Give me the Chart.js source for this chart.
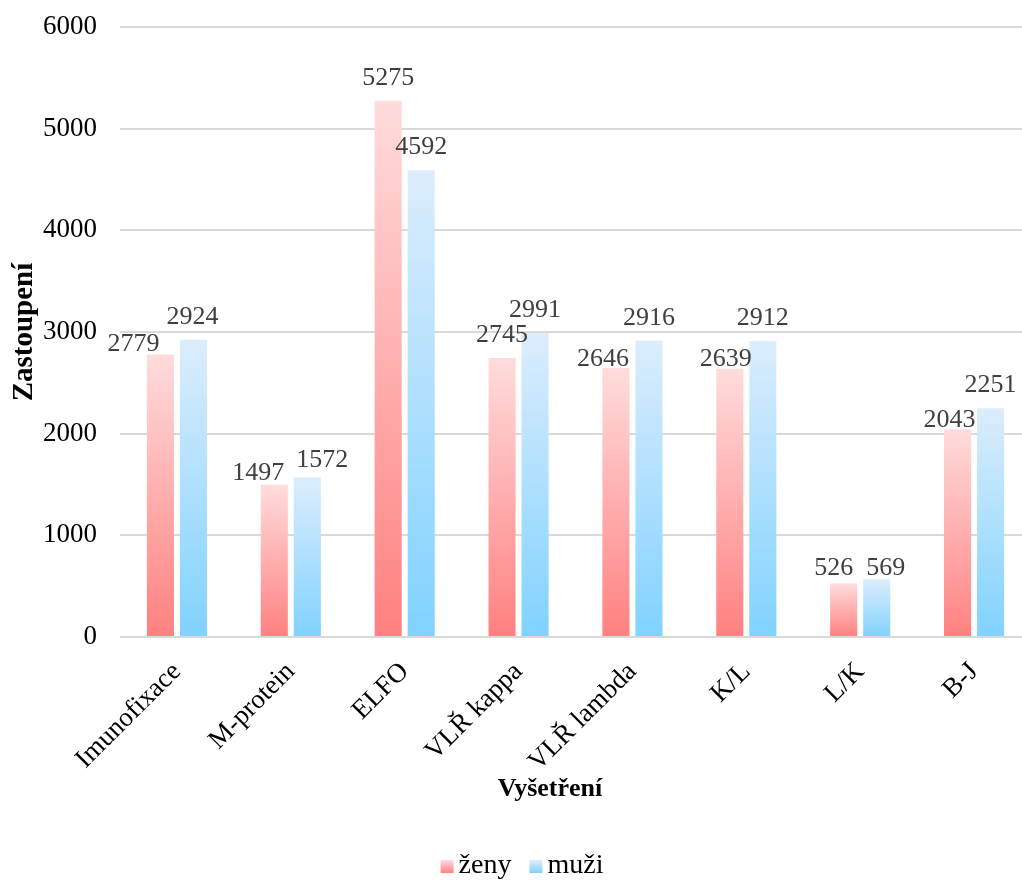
<!DOCTYPE html>
<html lang="cs">

<head>
  <meta charset="UTF-8">
  <title>Vyšetření</title>
  <script src="https://cdn.jsdelivr.net/npm/chart.js"></script>
  <style>
    body {
      margin: 0;
      background: #fff;
      overflow: hidden;
    }

    .wrap {
      width: 1044px;
      height: 880px;
    }
  </style>
</head>

<body>
  <div class="wrap"><canvas id="g" width="1044" height="880"></canvas></div>

  <script>
    const kategorie = ['Imunofixace', 'M-protein', 'ELFO', 'VLŘ kappa', 'VLŘ lambda', 'K/L', 'L/K', 'B-J'];
    const zeny = [2779, 1497, 5275, 2745, 2646, 2639, 526, 2043];
    const muzi = [2924, 1572, 4592, 2991, 2916, 2912, 569, 2251];
    const yMax = 6000;
    const yKrok = 1000;

    // posun popisku hodnot (px), aby se neprekryvaly
    const posunX = [
      [-27, -16, 0, 0, -13, -4, -10, -8],
      [-1, 15, 0, 0, 0, 0, 9, 0]
    ];
    const posunY = [
      [13, 11, 0, 0, 14, 13, 7, 14],
      [0, 6, 0, 0, 0, 0, 12, 0]
    ];

    const FONT = "'Liberation Serif', 'Times New Roman', serif";
    const cervena = ['#ff8080', '#ffdcdc'];
    const modra = ['#80d2ff', '#dcedfc'];

    // prechod pres vysku kazdeho sloupce
    function vypln(b) {
      return function (ctx) {
        const ch = ctx.chart;
        if (!ch.chartArea || ctx.type !== 'data') return b[0];
        const y = ch.scales.y;
        const g = ch.ctx.createLinearGradient(0, y.getPixelForValue(0), 0, y.getPixelForValue(ctx.raw));
        g.addColorStop(0, b[0]);
        g.addColorStop(1, b[1]);
        return g;
      };
    }

    const popisky = {
      id: 'popisky',
      afterDatasetsDraw(ch) {
        const c = ch.ctx;
        c.save();
        c.font = '26px ' + FONT;
        c.fillStyle = '#404040';
        c.textAlign = 'center';
        c.textBaseline = 'alphabetic';
        ch.data.datasets.forEach((ds, di) => {
          ch.getDatasetMeta(di).data.forEach((bar, i) => {
            c.fillText(ds.data[i], bar.x + posunX[di][i], bar.y - 16 + posunY[di][i]);
          });
        });
        c.restore();
      }
    };

    // nazev osy x a legenda pod grafem
    const spodek = {
      id: 'spodek',
      afterDraw(ch) {
        const c = ch.ctx;
        const a = ch.chartArea;
        c.save();
        c.fillStyle = '#000';
        c.textBaseline = 'middle';
        c.textAlign = 'center';
        c.font = 'bold 26px ' + FONT;
        c.fillText('Vyšetření', a.left + 430, a.bottom + 152);

        c.font = '28px ' + FONT;
        c.textAlign = 'left';
        const barvy = [cervena, modra];
        const sirky = ch.data.datasets.map(d => c.measureText(d.label).width);
        const celkem = sirky.reduce((s, w) => s + 13 + 5 + w, 0) + 18;
        let x = ch.width / 2 - celkem / 2;
        const y = 866;
        ch.data.datasets.forEach((d, i) => {
          const g = c.createLinearGradient(0, y + 7, 0, y - 6);
          g.addColorStop(0, barvy[i][0]);
          g.addColorStop(1, barvy[i][1]);
          c.fillStyle = g;
          c.fillRect(x, y - 6, 13, 13);
          c.fillStyle = '#000';
          c.fillText(d.label, x + 18, y);
          x += 13 + 5 + sirky[i] + 18;
        });
        c.restore();
      }
    };

    new Chart(document.getElementById('g'), {
      type: 'bar',
      data: {
        labels: kategorie,
        datasets: [{
          label: 'ženy',
          data: zeny,
          backgroundColor: vypln(cervena),
          borderWidth: 0
        }, {
          label: 'muži',
          data: muzi,
          backgroundColor: vypln(modra),
          borderWidth: 0
        }]
      },
      options: {
        responsive: false,
        animation: false,
        devicePixelRatio: 1,
        categoryPercentage: 0.58,
        barPercentage: 0.82,
        layout: {
          padding: { top: 27, right: 13, left: 0, bottom: 0 }
        },
        plugins: {
          tooltip: { enabled: false },
          legend: { display: false }
        },
        scales: {
          x: {
            grid: { display: false, drawTicks: false },
            border: { display: false },
            ticks: {
              color: '#000',
              font: { family: FONT, size: 27 },
              minRotation: 45,
              maxRotation: 45,
              padding: 19
            },
            afterFit(s) {
              s.height = 243;
              s.paddingTop = 0;
              s.paddingBottom = 0;
            }
          },
          y: {
            min: 0,
            max: yMax,
            grid: { color: '#d9d9d9', lineWidth: 2, drawTicks: false },
            border: { display: false },
            ticks: {
              stepSize: yKrok,
              color: '#000',
              padding: 23,
              font: { family: FONT, size: 27 },
              callback: v => String(v)
            },
            title: {
              display: true,
              text: 'Zastoupení',
              color: '#000',
              font: { family: FONT, size: 29, weight: 'bold' },
              padding: { top: 7, bottom: 0 }
            },
            afterFit(s) {
              s.width = 120;
              s.paddingTop = 0;
              s.paddingBottom = 0;
            }
          }
        }
      },
      plugins: [popisky, spodek]
    });
  </script>
</body>

</html>
